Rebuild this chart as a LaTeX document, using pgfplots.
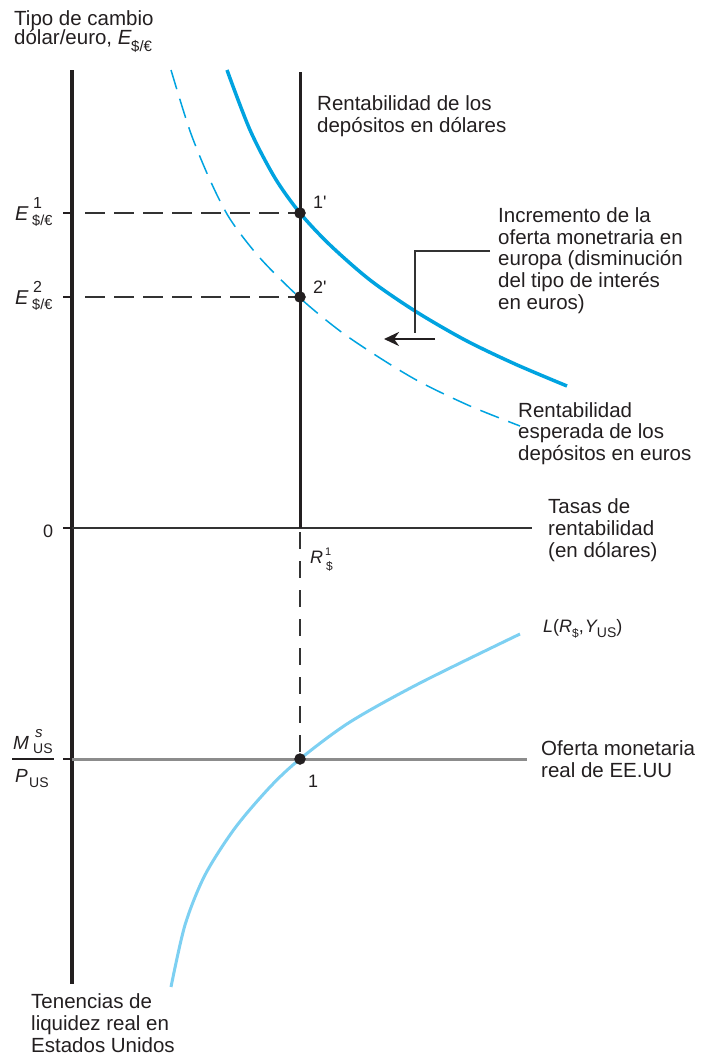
\documentclass[border=0pt]{standalone}
\usepackage{pgfplots}
\pgfplotsset{compat=1.18}
\usepackage{fontspec}
\setmainfont{Liberation Sans}
\usetikzlibrary{arrows.meta}
\definecolor{txt}{HTML}{231F20}
\definecolor{bl}{HTML}{00A3E0}
\definecolor{lb}{HTML}{7DD0F2}
\definecolor{gr}{HTML}{8C8C8C}
\definecolor{dk}{HTML}{333333}
\newcommand{\bt}{\fontsize{20.5}{22}\selectfont}
\newcommand{\lt}{\fontsize{18}{20}\selectfont}
\newcommand{\fs}[1]{\fontsize{#1}{#1}\selectfont}
\begin{document}
\begin{tikzpicture}
\begin{axis}[width=709pt,height=1058pt,scale only axis,
  xmin=0,xmax=709,ymin=0,ymax=1058,y dir=reverse,hide axis,clip=false]
\addplot[draw=none] coordinates {(0,0) (709,1058)};
% left axis
\addplot[txt,line width=3.2pt] coordinates {(72,70) (72,984)};
% ticks
\addplot[txt,line width=1.5pt] coordinates {(63,213) (72,213)};
\addplot[txt,line width=1.5pt] coordinates {(63,297) (72,297)};
\addplot[txt,line width=1.5pt] coordinates {(63,528) (72,528)};
\addplot[txt,line width=1.5pt] coordinates {(63,759) (72,759)};
% horizontal zero axis
\addplot[dk,line width=1.8pt] coordinates {(72,528) (532,528)};
% money supply line
\addplot[gr,line width=3pt] coordinates {(72,759) (527,759)};
% vertical dollar return
\addplot[txt,line width=3pt] coordinates {(300,72) (300,528)};
% dashed guides
\addplot[dk,line width=1.5pt,dash pattern=on 20pt off 9pt] coordinates {(85,213) (300,213)};
\addplot[dk,line width=1.5pt,dash pattern=on 20pt off 9pt] coordinates {(85,297) (300,297)};
\addplot[dk,line width=1.5pt,dash pattern=on 17pt off 12pt] coordinates {(300,532) (300,759)};
% dashed euro return (new)
\addplot[bl,line width=1.5pt,smooth,dash pattern=on 20pt off 10pt] coordinates {
(171,70) (190,131) (210,180) (230,219) (260,258) (300,298) (340,331) (380,358) (420,382) (470,406) (520,426)};
% solid euro return (initial)
\addplot[bl,line width=3.5pt,smooth] coordinates {
(227,70) (250,130) (275,178) (300,213) (330,245) (370,280) (415,311) (465,340) (515,364) (567,386)};
% liquidity curve
\addplot[lb,line width=3pt,smooth] coordinates {
(171,987) (185,925) (205,875) (235,828) (270,787) (300,759) (350,722) (420,683) (520,634)};
% leader and arrow
\addplot[dk,line width=1.2pt] coordinates {(490,251) (415,251) (415,333)};
\addplot[txt,line width=2.6pt,-{Stealth[length=15pt,width=14pt]}] coordinates {(435,339) (384,339)};
% points
\addplot[only marks,mark=*,mark size=5.5pt,txt] coordinates {(300,213) (300,297) (300,759)};

% texts
\node[anchor=base west,inner sep=0,txt] at (axis cs:14,25) {\bt Tipo de cambio};
\node[anchor=base west,inner sep=0,txt] at (axis cs:14,44) {\bt dólar/euro, \textit{E}};
\node[anchor=base west,inner sep=0,txt] at (axis cs:131,51) {\fs{15}\$/€};
\node[anchor=base west,inner sep=0,txt] at (axis cs:317,110) {\bt Rentabilidad de los};
\node[anchor=base west,inner sep=0,txt] at (axis cs:317,132) {\bt depósitos en dólares};
\node[anchor=base west,inner sep=0,txt] at (axis cs:313,208) {\lt 1\textquotesingle};
\node[anchor=base west,inner sep=0,txt] at (axis cs:313,293) {\lt 2\textquotesingle};
% E labels
\node[anchor=base west,inner sep=0,txt] at (axis cs:15,220) {\fs{20}\textit{E}};
\node[anchor=base west,inner sep=0,txt] at (axis cs:33,208) {\fs{16}1};
\node[anchor=base west,inner sep=0,txt] at (axis cs:32,225) {\fs{14.5}\$/€};
\node[anchor=base west,inner sep=0,txt] at (axis cs:15,304) {\fs{20}\textit{E}};
\node[anchor=base west,inner sep=0,txt] at (axis cs:33,292) {\fs{16}2};
\node[anchor=base west,inner sep=0,txt] at (axis cs:32,309) {\fs{14.5}\$/€};
\node[anchor=base west,inner sep=0,txt] at (axis cs:498,222) {\bt Incremento de la};
\node[anchor=base west,inner sep=0,txt] at (axis cs:498,244) {\bt oferta monetraria en};
\node[anchor=base west,inner sep=0,txt] at (axis cs:498,265) {\bt europa (disminución};
\node[anchor=base west,inner sep=0,txt] at (axis cs:498,287) {\bt del tipo de interés};
\node[anchor=base west,inner sep=0,txt] at (axis cs:498,309) {\bt en euros)};
\node[anchor=base west,inner sep=0,txt] at (axis cs:518,417) {\bt Rentabilidad};
\node[anchor=base west,inner sep=0,txt] at (axis cs:518,438) {\bt esperada de los};
\node[anchor=base west,inner sep=0,txt] at (axis cs:518,460) {\bt depósitos en euros};
\node[anchor=base west,inner sep=0,txt] at (axis cs:43,537) {\lt 0};
\node[anchor=base west,inner sep=0,txt] at (axis cs:548,513) {\bt Tasas de};
\node[anchor=base west,inner sep=0,txt] at (axis cs:548,535) {\bt rentabilidad};
\node[anchor=base west,inner sep=0,txt] at (axis cs:548,557) {\bt (en dólares)};
% R label
\node[anchor=base west,inner sep=0,txt] at (axis cs:310,563) {\lt\textit{R}};
\node[anchor=base west,inner sep=0,txt] at (axis cs:325,555) {\fs{11}1};
\node[anchor=base west,inner sep=0,txt] at (axis cs:326,570) {\fs{12}\$};
% L label
\node[anchor=base west,inner sep=0,txt] at (axis cs:543,632) {\lt\textit{L}(\textit{R}\raisebox{-5pt}{\fs{12}\$},\kern1pt\textit{Y}\kern-1pt\raisebox{-5pt}{\fs{14}US})};
% M/P label
\node[anchor=base west,inner sep=0,txt] at (axis cs:13,749) {\fs{19}\textit{M}};
\node[anchor=base west,inner sep=0,txt] at (axis cs:35,737) {\fs{15}\textit{s}};
\node[anchor=base west,inner sep=0,txt] at (axis cs:33,753) {\fs{14}US};
\node[anchor=west,inner sep=0,fill=txt,minimum width=42pt,minimum height=1.2pt] at (axis cs:12,759) {};
\node[anchor=base west,inner sep=0,txt] at (axis cs:15,782) {\fs{19}\textit{P}};
\node[anchor=base west,inner sep=0,txt] at (axis cs:29,787) {\fs{14}US};
\node[anchor=base west,inner sep=0,txt] at (axis cs:308,787) {\lt 1};
\node[anchor=base west,inner sep=0,txt] at (axis cs:541,755) {\bt Oferta monetaria};
\node[anchor=base west,inner sep=0,txt] at (axis cs:541,777) {\bt real de EE.UU};
\node[anchor=base west,inner sep=0,txt] at (axis cs:31,1008) {\bt Tenencias de};
\node[anchor=base west,inner sep=0,txt] at (axis cs:31,1030) {\bt liquidez real en};
\node[anchor=base west,inner sep=0,txt] at (axis cs:31,1052) {\bt Estados Unidos};
\end{axis}
\end{tikzpicture}
\end{document}
